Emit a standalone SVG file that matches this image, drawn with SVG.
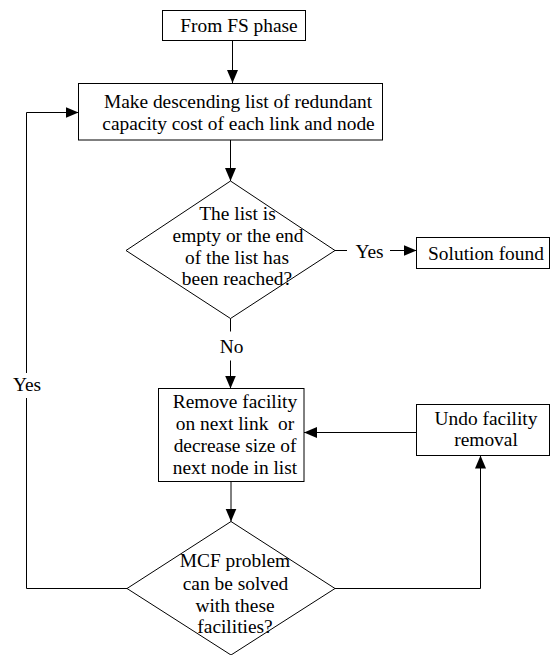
<svg xmlns="http://www.w3.org/2000/svg" width="551" height="655" viewBox="0 0 551 655">
<style>
.box{fill:#fff;stroke:#000;stroke-width:1}
.ln{fill:none;stroke:#000;stroke-width:1}
.t{font-family:'Liberation Serif','Times New Roman','DejaVu Serif',serif;font-size:19.4px;fill:#000;text-anchor:middle}
</style>
<defs>
<marker id="ah" markerUnits="userSpaceOnUse" markerWidth="14" markerHeight="12" refX="13" refY="5.5" orient="auto">
<path d="M0,0 L13,5.5 L0,11 z" fill="#000"/>
</marker>
</defs>
<rect width="551" height="655" fill="#fff"/>
<g id="connectors">
<line class="ln" x1="232.5" y1="40.5" x2="232.5" y2="83" marker-end="url(#ah)"/>
<polyline class="ln" points="335,588.5 480.5,588.5 480.5,455.5" marker-end="url(#ah)"/>
<line class="ln" x1="416.5" y1="432.5" x2="304" y2="432.5" marker-end="url(#ah)"/>
<line class="ln" x1="26.5" y1="588.5" x2="127" y2="588.5"/>
<line class="ln" x1="26.5" y1="588.5" x2="26.5" y2="398"/>
<polyline class="ln" points="26.5,373 26.5,112.5 78.5,112.5" marker-end="url(#ah)"/>
<line class="ln" x1="230.5" y1="140" x2="230.5" y2="181" marker-end="url(#ah)"/>
<line class="ln" x1="335" y1="250.5" x2="347" y2="250.5"/>
<line class="ln" x1="390" y1="250.5" x2="416.5" y2="250.5" marker-end="url(#ah)"/>
<line class="ln" x1="230.5" y1="318.5" x2="230.5" y2="331.5"/>
<line class="ln" x1="230.5" y1="360.5" x2="230.5" y2="388.5" marker-end="url(#ah)"/>
<line class="ln" x1="231" y1="481.5" x2="231" y2="521.5" marker-end="url(#ah)"/>
<text class="t" font-family="Liberation Serif, serif" x="27" y="391">Yes</text>
<text class="t" font-family="Liberation Serif, serif" x="369.5" y="258">Yes</text>
<text class="t" font-family="Liberation Serif, serif" x="231.5" y="352.5">No</text>
</g>
<g id="fs" font-family="Liberation Serif, serif">
<rect class="box" x="162.5" y="10.5" width="143" height="30"/>
<text class="t" x="239" y="31.7">From FS phase</text>
</g>
<g id="make">
<rect class="box" x="78.5" y="83.5" width="304" height="56.5"/>
<text class="t" x="238" y="108.3">Make descending list of redundant</text>
<text class="t" x="238.5" y="130">capacity cost of each link and node</text>
</g>
<g id="decision1">
<polygon class="box" points="230.5,181 335,250.5 230.5,318.5 126,250.5" style="fill:none"/>
<text class="t" x="237.5" y="220">The list is</text>
<text class="t" x="238" y="241.7">empty or the end</text>
<text class="t" x="237" y="263.5">of the list has</text>
<text class="t" x="237" y="285">been reached?</text>
</g>
<g id="solution">
<rect class="box" x="416.5" y="237.5" width="133" height="31"/>
<text class="t" x="486" y="260">Solution found</text>
</g>
<g id="remove">
<rect class="box" x="158.5" y="388.5" width="145.5" height="93"/>
<text class="t" x="235" y="408.3">Remove facility</text>
<text class="t" x="235" y="430" style="white-space:pre">on next link  or</text>
<text class="t" x="235" y="452">decrease size of</text>
<text class="t" x="235" y="474">next node in list</text>
</g>
<g id="undo">
<rect class="box" x="416.5" y="404.5" width="133" height="51"/>
<text class="t" x="486" y="425">Undo facility</text>
<text class="t" x="486" y="446">removal</text>
</g>
<g id="decision2">
<polygon class="box" points="231,521.5 335,588.5 231,655 127,588.5" style="fill:none"/>
<text class="t" x="235" y="567.3">MCF problem</text>
<text class="t" x="235.5" y="589.5">can be solved</text>
<text class="t" x="235" y="611.5">with these</text>
<text class="t" x="235" y="633.3">facilities?</text>
</g>
</svg>
